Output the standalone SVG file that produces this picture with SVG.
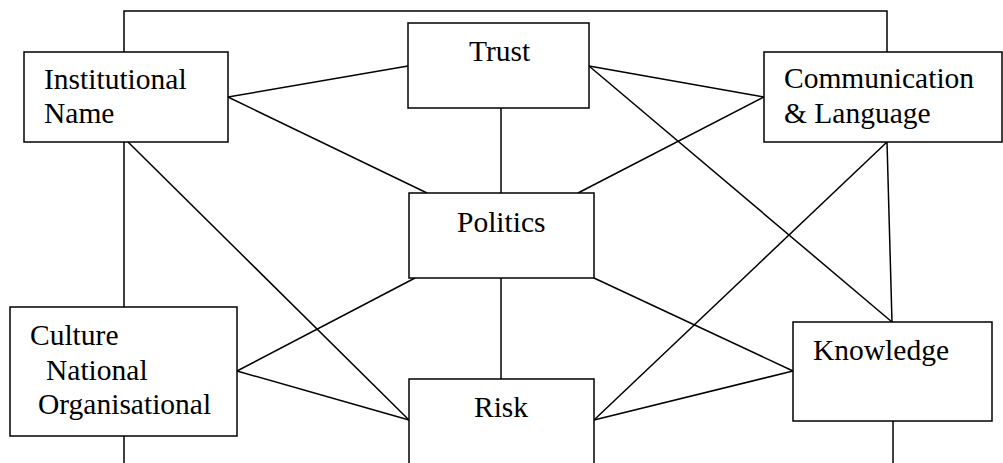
<svg xmlns="http://www.w3.org/2000/svg" width="1003" height="463" viewBox="0 0 1003 463">
<style>
.box{fill:#fff;stroke:#000;stroke-width:1.5}
.lbl{font-family:"Liberation Serif","Times New Roman",serif;font-size:29.5px;fill:#000}
#connectors line,#connectors polyline{stroke:#000;stroke-width:1.5;fill:none}
</style>
<rect width="1003" height="463" fill="#fff"/>
<g id="connectors">
<polyline points="124,52 124,11 887,11 887,52"/>
<line x1="228" y1="97" x2="408" y2="66"/>
<line x1="228" y1="97" x2="427" y2="193"/>
<line x1="589" y1="66" x2="764" y2="97"/>
<line x1="589" y1="66" x2="892" y2="322"/>
<line x1="501" y1="108" x2="501" y2="193"/>
<line x1="578" y1="193" x2="764" y2="97"/>
<line x1="124" y1="142" x2="124" y2="307"/>
<line x1="128" y1="142" x2="409" y2="420"/>
<line x1="237" y1="371" x2="409" y2="420"/>
<line x1="415" y1="278" x2="237" y2="371"/>
<line x1="594" y1="278" x2="793" y2="371"/>
<line x1="594" y1="420" x2="793" y2="371"/>
<line x1="594" y1="420" x2="887" y2="142"/>
<line x1="887" y1="142" x2="892" y2="322"/>
<line x1="501" y1="278" x2="501" y2="379"/>
<line x1="124" y1="436" x2="124" y2="463"/>
<line x1="893" y1="421" x2="893" y2="463"/>
</g>
<g id="institutional">
<rect class="box" x="24" y="52" width="204" height="90"/>
<text class="lbl" x="44" y="89">Institutional</text>
<text class="lbl" x="44" y="123">Name</text>
</g>
<g id="trust">
<rect class="box" x="408" y="23" width="181" height="85"/>
<text class="lbl" x="469" y="61">Trust</text>
</g>
<g id="communication">
<rect class="box" x="764" y="52" width="238" height="90"/>
<text class="lbl" x="784" y="88">Communication</text>
<text class="lbl" x="784" y="123">&amp; Language</text>
</g>
<g id="politics">
<rect class="box" x="409" y="193" width="185" height="85"/>
<text class="lbl" x="457" y="232">Politics</text>
</g>
<g id="culture">
<rect class="box" x="10" y="307" width="227" height="129"/>
<text class="lbl" x="30" y="345">Culture</text>
<text class="lbl" x="46" y="380">National</text>
<text class="lbl" x="38" y="414">Organisational</text>
</g>
<g id="risk">
<rect class="box" x="409" y="379" width="185" height="95"/>
<text class="lbl" x="474" y="417">Risk</text>
</g>
<g id="knowledge">
<rect class="box" x="793" y="322" width="199" height="99"/>
<text class="lbl" x="813" y="360">Knowledge</text>
</g>
</svg>
